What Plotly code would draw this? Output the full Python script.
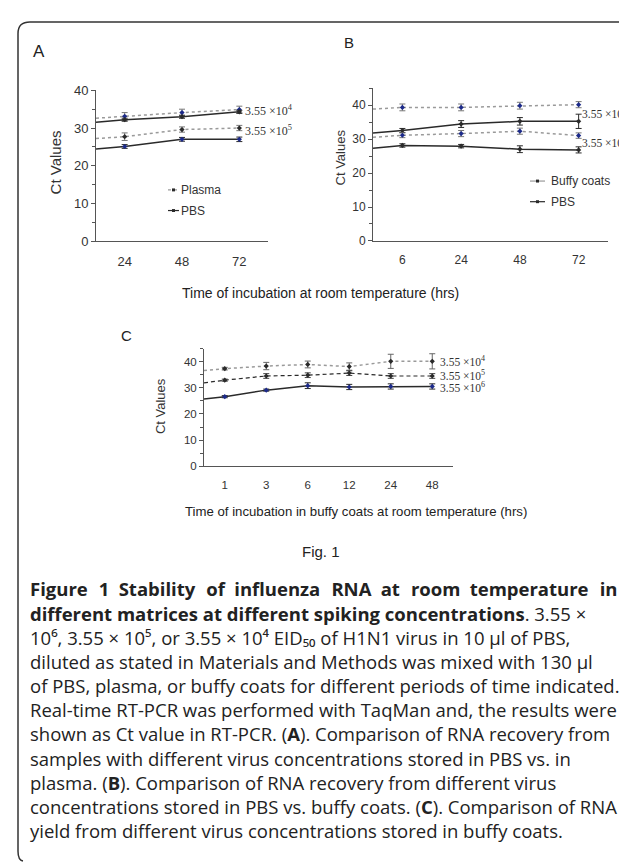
import plotly.graph_objects as go

W, H = 627, 863


def px(x):
    return x / W


def py(y):
    return 1 - y / H


# ---------------- data ----------------
# Panel A: PBS vs plasma
A_times = ["24", "48", "72"]
A_plasma_e4_start = 32.6
A_plasma_e4 = [33.1, 34.1, 34.9]
A_plasma_e4_err = [1.0, 0.9, 0.9]
A_pbs_e4_start = 31.5
A_pbs_e4 = [32.2, 33.0, 34.3]
A_pbs_e4_err = [0.4, 0.4, 0.4]
A_plasma_e5_start = 27.2
A_plasma_e5 = [27.7, 29.6, 30.0]
A_plasma_e5_err = [1.0, 0.7, 0.7]
A_pbs_e5_start = 24.4
A_pbs_e5 = [25.1, 27.0, 27.0]
A_pbs_e5_err = [0.5, 0.5, 0.6]

# Panel B: PBS vs buffy coats
B_times = ["6", "24", "48", "72"]
B_buffy_e4_start = 38.8
B_buffy_e4 = [39.3, 39.3, 39.8, 40.1]
B_buffy_e4_err = [1.0, 1.0, 1.0, 0.9]
B_pbs_e4_start = 31.8
B_pbs_e4 = [32.5, 34.4, 35.2, 35.2]
B_pbs_e4_err = [0.6, 1.0, 1.1, 2.1]
B_buffy_e5_start = 30.5
B_buffy_e5 = [31.1, 31.6, 32.3, 31.0]
B_buffy_e5_err = [0.7, 0.9, 0.9, 0.8]
B_pbs_e5_start = 27.3
B_pbs_e5 = [28.1, 27.9, 27.0, 26.8]
B_pbs_e5_err = [0.5, 0.5, 1.0, 0.9]

# Panel C: buffy coats, three concentrations
C_times = ["1", "3", "6", "12", "24", "48"]
C_e4_start = 36.6
C_e4 = [37.3, 38.3, 38.9, 38.1, 40.1, 40.1]
C_e4_err = [0.5, 1.4, 1.3, 1.4, 2.7, 2.9]
C_e5_start = 31.9
C_e5 = [32.9, 34.5, 34.8, 35.6, 34.5, 34.5]
C_e5_err = [0.4, 0.9, 0.9, 0.9, 0.9, 0.9]
C_e6_start = 25.7
C_e6 = [26.6, 29.1, 30.8, 30.3, 30.5, 30.5]
C_e6_err = [0.4, 0.4, 1.1, 1.0, 1.0, 1.0]

# ---------------- styles ----------------
GRAY = "#9a9a9a"
DARK = "#2a2a2a"
BLUE = "#1c2a8a"
AX = "#555555"
SANS = "Liberation Sans, Arial, sans-serif"
SERIF = "Liberation Serif, Times New Roman, serif"
CAP = "Open Sans, Noto Sans, DejaVu Sans, sans-serif"

fig = go.Figure()


def add_series(xa, ya, start, vals, errs, lcolor, dash, mcolor, ecolor, width=1.5):
    xs = list(range(len(vals)))
    fig.add_trace(go.Scatter(
        x=[-0.5] + xs, y=[start] + vals, mode="lines",
        line=dict(color=lcolor, dash=dash, width=width),
        xaxis=xa, yaxis=ya, showlegend=False, hoverinfo="skip"))
    fig.add_trace(go.Scatter(
        x=xs, y=vals, mode="markers",
        marker=dict(symbol="diamond", size=4, color=mcolor),
        error_y=dict(type="data", array=errs, color=ecolor, thickness=1, width=3),
        xaxis=xa, yaxis=ya, showlegend=False))


# Panel A
add_series("x", "y", A_plasma_e4_start, A_plasma_e4, A_plasma_e4_err, GRAY, "dot", BLUE, "#777")
add_series("x", "y", A_pbs_e4_start, A_pbs_e4, A_pbs_e4_err, DARK, "solid", DARK, DARK)
add_series("x", "y", A_plasma_e5_start, A_plasma_e5, A_plasma_e5_err, GRAY, "dot", DARK, "#777")
add_series("x", "y", A_pbs_e5_start, A_pbs_e5, A_pbs_e5_err, DARK, "solid", BLUE, DARK)

# Panel B
add_series("x2", "y2", B_buffy_e4_start, B_buffy_e4, B_buffy_e4_err, GRAY, "dot", BLUE, "#777")
add_series("x2", "y2", B_pbs_e4_start, B_pbs_e4, B_pbs_e4_err, DARK, "solid", DARK, DARK)
add_series("x2", "y2", B_buffy_e5_start, B_buffy_e5, B_buffy_e5_err, GRAY, "dot", BLUE, "#777")
add_series("x2", "y2", B_pbs_e5_start, B_pbs_e5, B_pbs_e5_err, DARK, "solid", DARK, DARK)

# Panel C
add_series("x3", "y3", C_e4_start, C_e4, C_e4_err, GRAY, "dot", DARK, "#666")
add_series("x3", "y3", C_e5_start, C_e5, C_e5_err, DARK, "4px,3px", DARK, "#444", width=1.2)
add_series("x3", "y3", C_e6_start, C_e6, C_e6_err, DARK, "solid", BLUE, DARK)


def xaxis_cfg(x0, x1, labels, fsize):
    return dict(domain=[px(x0), px(x1)], range=[-0.5, len(labels) - 0.5],
                tickmode="array", tickvals=list(range(len(labels))), ticktext=labels,
                showline=True, linecolor=AX, linewidth=1, showgrid=False, zeroline=False,
                ticks="", tickfont=dict(family=SANS, size=fsize, color="#333"),
                ticklabelstandoff=8, fixedrange=True)


def yaxis_cfg(y0px, ytop_px, top, fsize):
    return dict(domain=[py(y0px), py(ytop_px)], range=[0, top],
                tickmode="array", tickvals=[0, 10, 20, 30, 40],
                showline=True, linecolor=AX, linewidth=1, showgrid=False, zeroline=False,
                ticks="outside", ticklen=4, tickcolor=AX,
                minor=dict(dtick=5, ticks="outside", ticklen=3, tickcolor=AX, showgrid=False),
                tickfont=dict(family=SANS, size=fsize, color="#333"), fixedrange=True)


fig.update_layout(
    width=W, height=H, margin=dict(l=0, r=0, t=0, b=0),
    paper_bgcolor="white", plot_bgcolor="white", showlegend=False,
    xaxis=dict(xaxis_cfg(88, 260, A_times, 13), anchor="y"),
    yaxis=dict(yaxis_cfg(230, 76.7, 40, 13), anchor="x"),
    xaxis2=dict(xaxis_cfg(365, 600, B_times, 12), anchor="y2"),
    yaxis2=dict(yaxis_cfg(230, 74.3, 45, 12), anchor="x2"),
    xaxis3=dict(xaxis_cfg(196, 445, C_times, 11.5), anchor="y3"),
    yaxis3=dict(yaxis_cfg(459.3, 339.4, 45, 11.5), anchor="x3"),
)

ann = []


def text(x, y, s, size, family=SANS, color="#222", xanchor="center", angle=0, yanchor="middle"):
    ann.append(dict(x=px(x), y=py(y), xref="paper", yref="paper", text=s, showarrow=False,
                    xanchor=xanchor, yanchor=yanchor, textangle=angle, borderpad=0,
                    font=dict(family=family, size=size, color=color)))


# panel letters
text(31, 37, "A", 17)
text(341, 28, "B", 15)
text(118, 326, "C", 15)

# y titles
text(47, 150, "Ct Values", 15, color="#333", angle=-90)
text(332, 145, "Ct Values", 13, color="#333", angle=-90)
text(152, 398, "Ct Values", 13, color="#333", angle=-90)

# x titles
text(312, 283, "Time of incubation at room temperature (hrs)", 14, color="#222")
text(348, 505, "Time of incubation in buffy coats at room temperature (hrs)", 13.2, color="#222")

# concentration labels
text(236, 97, "3.55 ×10<sup>4</sup>", 12, family=SERIF, color="#333", xanchor="left")
text(236, 118, "3.55 ×10<sup>5</sup>", 12, family=SERIF, color="#333", xanchor="left")
text(573, 100, "3.55 ×10<sup>4</sup>", 11.5, family=SERIF, color="#333", xanchor="left")
text(573, 129, "3.55 ×10<sup>5</sup>", 11.5, family=SERIF, color="#333", xanchor="left")
text(431, 352, "3.55 ×10<sup>4</sup>", 11.5, family=SERIF, color="#333", xanchor="left")
text(431, 366, "3.55 ×10<sup>5</sup>", 11.5, family=SERIF, color="#333", xanchor="left")
text(431, 379, "3.55 ×10<sup>6</sup>", 11.5, family=SERIF, color="#333", xanchor="left")

# legends text
text(172, 178, "Plasma", 12, color="#333", xanchor="left")
text(172, 199, "PBS", 12, color="#333", xanchor="left")
text(542, 169, "Buffy coats", 12, color="#333", xanchor="left")
text(542, 190, "PBS", 12, color="#333", xanchor="left")

# Fig. 1
text(313, 546, "Fig. 1", 15, color="#222")

# caption
words1 = "Figure 1 Stability of influenza RNA at room temperature in".split(" ")
line1 = words1[0]
for k, w in enumerate(words1[1:]):
    line1 += ("\u2002\u200a" if k % 2 == 0 else "\u2002") + w
caption_lines = [
    "<b>" + line1 + "</b>",
    "<b>different matrices at different spiking concentrations</b>. 3.55 ×",
    "10\u2076, 3.55 × 10\u2075, or 3.55 × 10\u2074 EID\u2085\u2080 of H1N1 virus in 10 µl of PBS,",
    "diluted as stated in Materials and Methods was mixed with 130 µl",
    "of PBS, plasma, or buffy coats for different periods of time indicated.",
    "Real-time RT-PCR was performed with TaqMan and, the results were",
    "shown as Ct value in RT-PCR. (<b>A</b>). Comparison of RNA recovery from",
    "samples with different virus concentrations stored in PBS vs. in",
    "plasma. (<b>B</b>). Comparison of RNA recovery from different virus",
    "concentrations stored in PBS vs. buffy coats. (<b>C</b>). Comparison of RNA",
    "yield from different virus concentrations stored in buffy coats.",
]
for i, line in enumerate(caption_lines):
    text(21, 584 + i * 24.6, line, 18.5, family=CAP, color="#222", xanchor="left")

fig.update_layout(annotations=ann)

# shapes: legend glyphs and border
shapes = []


def seg(x0, y0, x1, y1, color, width=1.2, dash="solid"):
    shapes.append(dict(type="line", xref="paper", yref="paper", x0=px(x0), y0=py(y0),
                       x1=px(x1), y1=py(y1), line=dict(color=color, width=width, dash=dash)))


def dot(x, y, color, r=1.5):
    shapes.append(dict(type="rect", xref="paper", yref="paper", x0=px(x - r), y0=py(y - r),
                       x1=px(x + r), y1=py(y + r), line=dict(width=0), fillcolor=color))


seg(160, 178, 171, 178, GRAY, 1.2, "dot")
dot(165.5, 178, DARK)
seg(160, 199, 171, 199, DARK, 1.2)
dot(165.5, 199, DARK)
seg(522, 169, 537, 169, GRAY, 1.2)
dot(529.5, 169, DARK)
seg(522, 190, 537, 190, DARK, 1.2)
dot(529.5, 190, DARK)


def P(x, y):
    return f"{px(x):.5f},{py(y):.5f}"


border = (f"M {P(623, 10)} Q {P(622, 7)} {P(618, 7)} L {P(22, 7)} Q {P(10, 7)} {P(10, 19)} "
          f"L {P(10, 851)} Q {P(10, 860)} {P(15, 861)}")
shapes.append(dict(type="path", xref="paper", yref="paper", path=border,
                   line=dict(color="#333", width=1.5)))
fig.update_layout(shapes=shapes)

fig.write_html("out.html")
